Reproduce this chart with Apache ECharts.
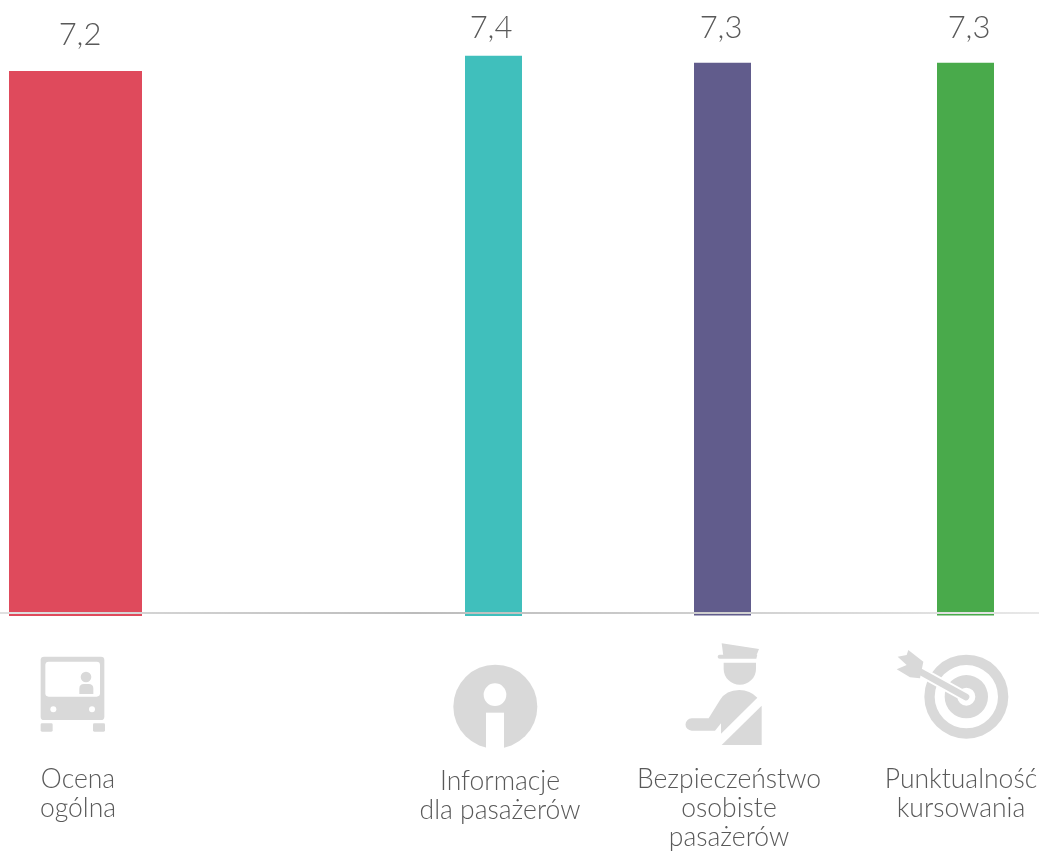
<!DOCTYPE html>
<html>
<head>
<meta charset="utf-8">
<style>
  html, body {margin: 0; padding: 0; background: #fff;}
  #chart {width: 1039px; height: 851px;}
</style>
<script src="https://cdn.jsdelivr.net/npm/echarts@6/dist/echarts.min.js"></script>
</head>
<body>
<div id="chart"></div>
<script>
const categories = ['Ocena\nogólna', 'Informacje\ndla pasażerów', 'Bezpieczeństwo\nosobiste\npasażerów', 'Punktualność\nkursowania']
const values = [7.2, 7.4, 7.3, 7.3]
const barColors = ['#df4a5c', '#40bfbc', '#615c8c', '#49aa4b']

const fontFamily = 'Lato, "Open Sans", sans-serif'
const textColor = '#595959'
const iconColor = '#d9d9d9'
const yMax = 8

// every bar has its own slot, the gaps in the original are not regular
const slots = [
  {left: 9, width: 133, bottom: 616, labelDx: 4.5, labelDy: -20, nameDx: 2.5, margin: 149},
  {left: 465, width: 57, bottom: 616, labelDx: -2.5, labelDy: -12, nameDx: 6.5, margin: 151},
  {left: 694, width: 57, bottom: 615.4, labelDx: -1.5, labelDy: -19, nameDx: 6.5, margin: 150},
  {left: 937, width: 57, bottom: 615.4, labelDx: 3.5, labelDy: -19, nameDx: -4.5, margin: 150},
]
const pxPerUnit = 75.7

const namePadding = dx => (dx >= 0 ? [0, 0, 0, dx * 2] : [0, -dx * 2, 0, 0])

const grid = slots.map(s => ({
  left: s.left,
  width: s.width,
  top: s.bottom - yMax * pxPerUnit,
  height: yMax * pxPerUnit,
  outerBoundsMode: 'none',
}))

const xAxis = slots.map((s, i) => ({
  type: 'category',
  gridIndex: i,
  data: [categories[i]],
  axisLine: {show: false},
  axisTick: {show: false},
  axisLabel: {
    interval: 0,
    margin: s.margin,
    verticalAlign: 'top',
    fontFamily,
    fontSize: 26.5,
    fontWeight: 300,
    lineHeight: 29,
    color: textColor,
    padding: namePadding(s.nameDx),
  },
}))

const yAxis = slots.map((s, i) => ({
  type: 'value',
  gridIndex: i,
  min: 0,
  max: yMax,
  show: false,
}))

const series = slots.map((s, i) => ({
  type: 'bar',
  xAxisIndex: i,
  yAxisIndex: i,
  barWidth: '100%',
  data: [values[i]],
  itemStyle: {color: barColors[i]},
  silent: true,
  label: {
    show: true,
    position: 'top',
    distance: 0,
    offset: [s.labelDx, s.labelDy],
    formatter: p => String(p.value).replace('.', ','),
    fontFamily,
    fontSize: 31,
    fontWeight: 300,
    color: textColor,
  },
}))

const fill = {fill: iconColor}
const white = {fill: '#fff'}

// icons are traced at 3x, so the groups are scaled down
const iconGroup = (x, y, children) => ({type: 'group', x, y, scaleX: 1 / 3, scaleY: 1 / 3, children})

const busIcon = iconGroup(20, 640, [
  {type: 'rect', shape: {x: 62, y: 50, width: 191, height: 190, r: 10}, style: fill},
  {type: 'rect', shape: {x: 76, y: 65, width: 164, height: 105, r: 10}, style: white},
  {type: 'circle', shape: {cx: 198, cy: 111, r: 16}, style: fill},
  {type: 'path', shape: {pathData: 'M178 162V146Q178 132 192 132H206Q220 132 220 146V162Z'}, style: fill},
  {type: 'circle', shape: {cx: 100, cy: 208, r: 9}, style: white},
  {type: 'circle', shape: {cx: 216, cy: 208, r: 9}, style: white},
  {type: 'rect', shape: {x: 62, y: 250, width: 36, height: 25, r: 4}, style: fill},
  {type: 'rect', shape: {x: 219, y: 250, width: 36, height: 25, r: 4}, style: fill},
])

const infoIcon = iconGroup(440, 655, [
  {type: 'circle', shape: {cx: 166, cy: 155, r: 126}, style: fill},
  {type: 'circle', shape: {cx: 165, cy: 119, r: 34}, style: white},
  {type: 'rect', shape: {x: 138, y: 173, width: 54, height: 112}, style: white},
])

const officerIcon = iconGroup(670, 635, [
  {type: 'path', shape: {pathData: 'M155 25L267 42L259 62H160Z'}, style: fill},
  {type: 'path', shape: {pathData: 'M149 59H262L259 71H149Q143 71 143 65Q143 59 149 59Z'}, style: fill},
  {type: 'path', shape: {pathData: 'M161 83H258V101A48.5 48.5 0 0 1 161 101Z'}, style: fill},
  {type: 'path', shape: {pathData: 'M262 188L153 296V265L135 287H65A18.5 18.5 0 0 1 65 250H116L150 195Q168 165 208 165Q240 165 262 188Z'}, style: fill},
  {type: 'path', shape: {pathData: 'M275 212V330H155Z'}, style: fill},
])

const targetIcon = iconGroup(885, 640, [
  {type: 'ring', shape: {cx: 244, cy: 170, r: 126, r0: 95}, style: fill},
  {type: 'ring', shape: {cx: 244, cy: 170, r: 65, r0: 27}, style: fill},
  {type: 'line', shape: {x1: 100, y1: 92, x2: 245, y2: 172}, style: {stroke: '#fff', fill: null, lineWidth: 32}},
  {type: 'line', shape: {x1: 100, y1: 92, x2: 243, y2: 171}, style: {stroke: iconColor, fill: null, lineWidth: 20, lineCap: 'round'}},
  {type: 'path', shape: {pathData: 'M70 30L115 65L105 115L75 112L35 88L65 75L38 50L65 45Z'}, style: fill},
])

// drawn in a custom series because the graphic component has no path element
series.push({
  type: 'custom',
  coordinateSystem: 'none',
  silent: true,
  data: [0],
  renderItem: () => ({type: 'group', children: [busIcon, infoIcon, officerIcon, targetIcon]}),
})

const baseLine = {
  type: 'rect',
  z: 20,
  shape: {x: 0, y: 612, width: 1039, height: 2},
  silent: true,
  style: {
    fill: new echarts.graphic.LinearGradient(0, 0, 1, 0, [
      {offset: 0, color: '#e0e0e0'},
      {offset: 0.4, color: '#bcbcbc'},
      {offset: 0.7, color: '#d0d0d0'},
      {offset: 1, color: '#e8e8e8'},
    ]),
  },
}

const chart = echarts.init(document.getElementById('chart'))
chart.setOption({
  animation: false,
  backgroundColor: '#fff',
  grid,
  xAxis,
  yAxis,
  series,
  graphic: [baseLine],
})
</script>
</body>
</html>
